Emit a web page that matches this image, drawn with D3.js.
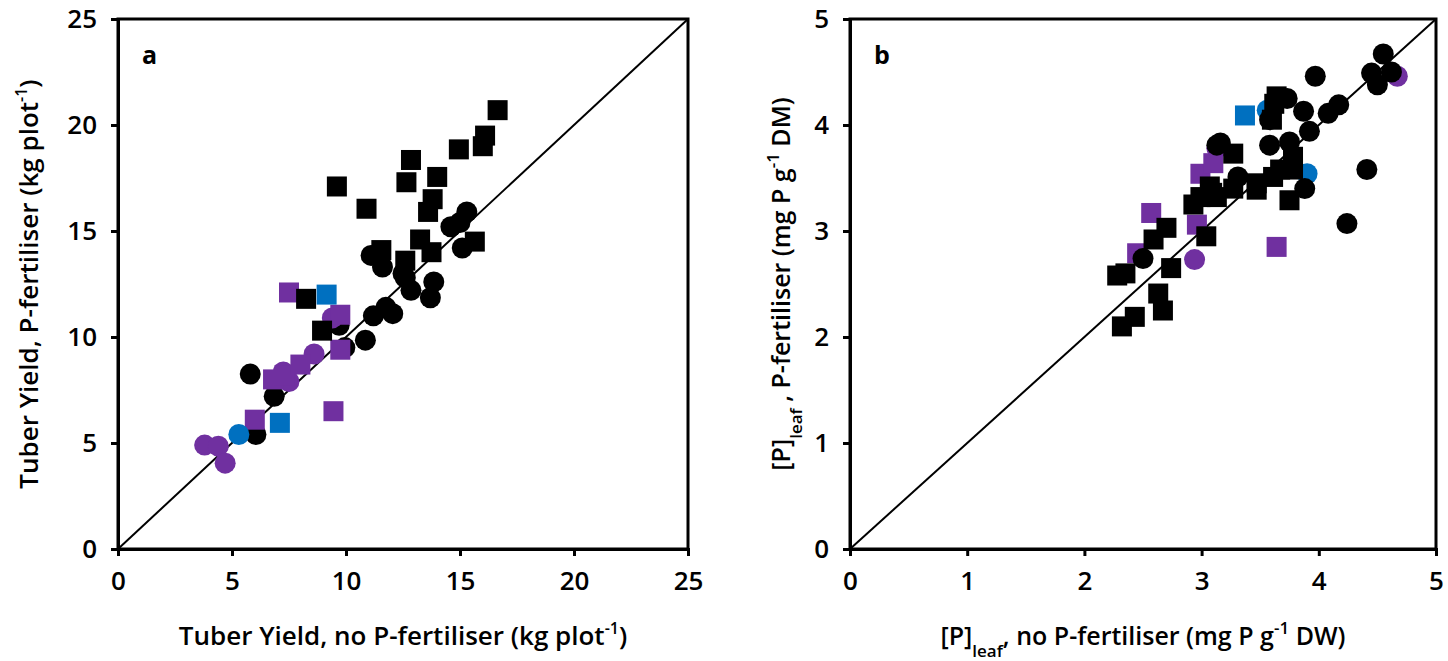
<!DOCTYPE html>
<html>
<head>
<meta charset="utf-8">
<script src="https://cdn.jsdelivr.net/npm/d3@7"></script>
<style>
  body { margin: 0; background: #fff; }
  svg text { font-family: "Open Sans", "Noto Sans", sans-serif; }
</style>
</head>
<body>
<svg id="chart" width="1448" height="661"></svg>
<script>
// ---------- DATA ----------
// Panel a: Tuber yield (kg plot-1), [x = no P-fertiliser, y = P-fertiliser]
const aTicks = [0, 5, 10, 15, 20, 25];
const aBlackSquares = [[9.6,17.1],[10.9,16.05],[12.85,18.35],[12.65,17.3],[14.0,17.55],[14.95,18.85],[16.0,19.0],[16.1,19.5],[16.65,20.7],[13.8,16.5],[13.6,15.9],[13.25,14.6],[13.75,14.0],[15.65,14.5],[12.6,13.6],[11.55,14.1],[8.25,11.8],[8.95,10.3]];
const aBlackCircles = [[15.3,15.9],[15.0,15.4],[14.6,15.2],[15.1,14.2],[11.1,13.85],[11.6,13.3],[12.5,13.0],[12.85,12.2],[12.6,12.8],[13.85,12.6],[13.7,11.85],[11.2,11.0],[11.75,11.4],[12.05,11.1],[10.85,9.85],[9.7,10.55],[9.95,9.5],[5.8,8.25],[6.85,7.2],[6.05,5.4]];
const aPurpleSquares = [[7.5,12.1],[9.75,11.05],[9.75,9.4],[9.45,6.5],[6.0,6.1],[6.8,8.0],[7.3,8.2],[8.0,8.7]];
const aPurpleCircles = [[8.6,9.2],[7.25,8.35],[7.5,7.9],[9.4,10.9],[3.8,4.9],[4.4,4.85],[4.7,4.05]];
const aBlueSquares = [[9.15,12.0],[7.1,5.95]];
const aBlueCircles = [[5.3,5.4]];

// Panel b: [P]leaf (mg P g-1), [x = no P-fertiliser, y = P-fertiliser]
const bTicks = [0, 1, 2, 3, 4, 5];
const bBlackCircles = [[4.55,4.67],[4.45,4.49],[4.62,4.50],[4.5,4.38],[3.97,4.46],[4.17,4.19],[4.08,4.11],[3.87,4.13],[3.92,3.94],[4.41,3.58],[4.24,3.07],[3.88,3.40],[3.16,3.83],[3.58,3.81],[3.75,3.84],[3.31,3.51],[3.58,4.05],[3.73,4.25],[2.50,2.74],[3.13,3.81]];
const bBlackSquares = [[3.64,4.27],[3.60,4.05],[3.27,3.73],[3.78,3.70],[3.78,3.58],[3.75,3.29],[3.47,3.45],[3.07,3.42],[2.99,3.32],[2.93,3.25],[3.13,3.32],[3.61,3.51],[2.70,3.03],[2.59,2.92],[2.28,2.58],[2.35,2.60],[2.74,2.65],[2.63,2.41],[2.67,2.25],[2.43,2.19],[2.32,2.10],[3.04,2.95],[3.27,3.40],[3.47,3.39],[3.09,3.36],[3.67,3.58],[3.62,4.20]];
const bPurpleSquares = [[2.57,3.17],[2.96,3.06],[2.99,3.54],[3.10,3.64],[2.45,2.79],[3.64,2.85]];
const bPurpleCircles = [[4.67,4.46],[3.13,3.78],[2.94,2.73]];
const bBlueSquares = [[3.37,4.09]];
const bBlueCircles = [[3.90,3.54],[3.56,4.14]];

const BLACK = "#000000", PURPLE = "#7030a0", BLUE = "#0070c0";

// ---------- DRAW ----------
const svg = d3.select("#chart");
const plotTop = 19, plotBottom = 549;

function panel(opts) {
  const x = d3.scaleLinear().domain(opts.domain).range([opts.left, opts.right]);
  const y = d3.scaleLinear().domain(opts.domain).range([plotBottom, plotTop]);
  const g = svg.append("g");

  // 1:1 line
  g.append("line")
    .attr("x1", x(opts.domain[0])).attr("y1", y(opts.domain[0]))
    .attr("x2", x(opts.domain[1])).attr("y2", y(opts.domain[1]))
    .attr("stroke", "#000").attr("stroke-width", 2);

  const sq = 20, r = 10.5;
  function squares(data, color) {
    g.append("g").selectAll("rect").data(data).join("rect")
      .attr("x", d => x(d[0]) - sq / 2).attr("y", d => y(d[1]) - sq / 2)
      .attr("width", sq).attr("height", sq).attr("fill", color);
  }
  function circles(data, color) {
    g.append("g").selectAll("circle").data(data).join("circle")
      .attr("cx", d => x(d[0])).attr("cy", d => y(d[1])).attr("r", r).attr("fill", color);
  }
  opts.layers.forEach(l => (l[0] === "s" ? squares : circles)(l[1], l[2]));

  // frame
  g.append("rect").attr("x", opts.left).attr("y", plotTop)
    .attr("width", opts.right - opts.left).attr("height", plotBottom - plotTop)
    .attr("fill", "none").attr("stroke", "#000").attr("stroke-width", 3);

  const xAxis = g.append("g").attr("transform", `translate(0,${plotBottom})`)
    .call(d3.axisBottom(x).tickValues(opts.ticks).tickSize(7).tickPadding(16).tickFormat(d3.format("d")));
  const yAxis = g.append("g").attr("transform", `translate(${opts.left},0)`)
    .call(d3.axisLeft(y).tickValues(opts.ticks).tickSize(7).tickPadding(14).tickFormat(d3.format("d")));
  [xAxis, yAxis].forEach(ax => {
    ax.select(".domain").attr("stroke-width", 3);
    ax.selectAll(".tick line").attr("stroke-width", 3);
    ax.selectAll(".tick text").attr("font-size", 26).attr("font-weight", 600)
      .attr("font-family", "'Open Sans', sans-serif").attr("fill", "#000");
  });

  // panel letter
  g.append("text").attr("x", opts.left + 24).attr("y", 64)
    .attr("font-size", 25).attr("font-weight", 700).text(opts.letter);

  // x title
  const xt = g.append("text").attr("x", (opts.left + opts.right) / 2).attr("y", 645)
    .attr("text-anchor", "middle").attr("font-size", opts.titleSize).attr("font-weight", 600);
  opts.xTitle(xt);
  // y title
  const yt = g.append("text")
    .attr("transform", `translate(${opts.yTitleX},${(plotTop + plotBottom) / 2}) rotate(-90)`)
    .attr("text-anchor", "middle").attr("font-size", opts.titleSize).attr("font-weight", 600);
  opts.yTitle(yt);
}

function sup(t, s, fs) { t.append("tspan").attr("baseline-shift", "super").attr("font-size", fs).text(s); }
function sub(t, s, fs) { t.append("tspan").attr("baseline-shift", "sub").attr("font-size", fs).text(s); }

panel({
  left: 118, right: 688, domain: [0, 25], ticks: aTicks, letter: "a", yTitleX: 38, titleSize: 26,
  layers: [["c", aBlackCircles, BLACK], ["c", aPurpleCircles, PURPLE], ["s", aPurpleSquares, PURPLE],
           ["s", aBlackSquares, BLACK], ["c", aBlueCircles, BLUE], ["s", aBlueSquares, BLUE]],
  xTitle: t => { t.append("tspan").text("Tuber Yield, no P-fertiliser (kg plot"); sup(t, "-1", 16); t.append("tspan").text(")"); },
  yTitle: t => { t.append("tspan").text("Tuber Yield, P-fertiliser (kg plot"); sup(t, "-1", 16); t.append("tspan").text(")"); }
});

panel({
  left: 850, right: 1436, domain: [0, 5], ticks: bTicks, letter: "b", yTitleX: 790, titleSize: 25,
  layers: [["c", bPurpleCircles, PURPLE], ["s", bPurpleSquares, PURPLE], ["c", bBlueCircles, BLUE],
           ["s", bBlueSquares, BLUE], ["c", bBlackCircles, BLACK], ["s", bBlackSquares, BLACK]],
  xTitle: t => { t.append("tspan").text("[P]"); sub(t, "leaf", 17); t.append("tspan").text(", no P-fertiliser (mg P g"); sup(t, "-1", 17); t.append("tspan").text(" DW)"); },
  yTitle: t => { t.append("tspan").text("[P]"); sub(t, "leaf", 17); t.append("tspan").text(" , P-fertiliser (mg P g"); sup(t, "-1", 17); t.append("tspan").text(" DM)"); }
});
</script>
</body>
</html>
